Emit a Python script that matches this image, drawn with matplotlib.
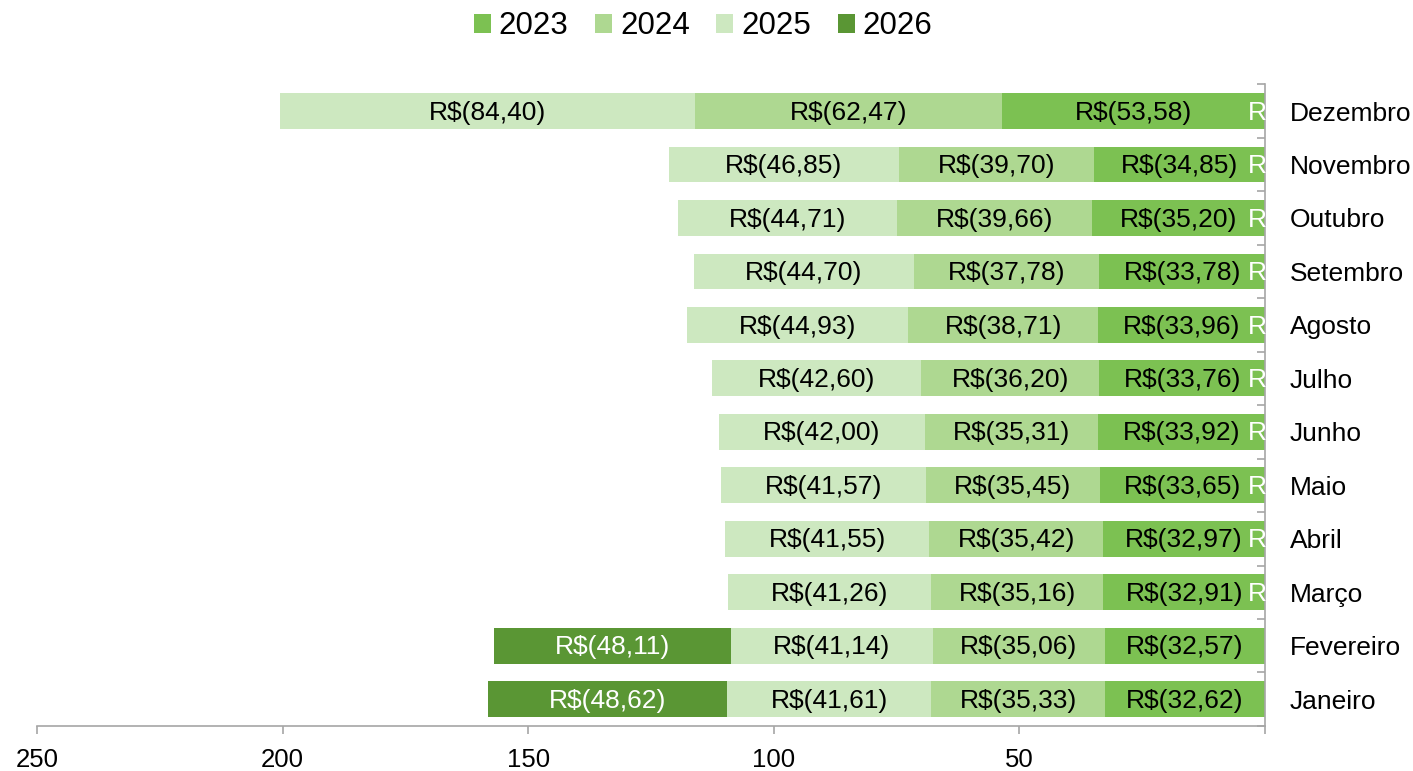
import numpy as np
import matplotlib.pyplot as plt
from matplotlib.patches import Patch

plt.rcParams["font.family"] = ["Liberation Sans", "DejaVu Sans"]

months = ["Janeiro", "Fevereiro", "Março", "Abril", "Maio", "Junho",
          "Julho", "Agosto", "Setembro", "Outubro", "Novembro", "Dezembro"]

v2023 = [32.62, 32.57, 32.91, 32.97, 33.65, 33.92, 33.76, 33.96, 33.78, 35.20, 34.85, 53.58]
v2024 = [35.33, 35.06, 35.16, 35.42, 35.45, 35.31, 36.20, 38.71, 37.78, 39.66, 39.70, 62.47]
v2025 = [41.61, 41.14, 41.26, 41.55, 41.57, 42.00, 42.60, 44.93, 44.70, 44.71, 46.85, 84.40]
v2026 = [48.62, 48.11, 0, 0, 0, 0, 0, 0, 0, 0, 0, 0]

years = ["2023", "2024", "2025", "2026"]
series = [v2023, v2024, v2025, v2026]
colors = ["#7cc152", "#aed891", "#cde8c0", "#5a9634"]
text_colors = ["black", "black", "black", "white"]

x_ticks = [0, 50, 100, 150, 200, 250]
x_tick_labels = ["", "50", "100", "150", "200", "250"]


def brl(v):
    return "R$({:.2f})".format(v).replace(".", ",")


fig = plt.figure(figsize=(14.13, 7.71), dpi=100)
ax = fig.add_axes([0.0262, 0.0584, 0.8691, 0.8323])

y = np.arange(len(months))
left = np.zeros(len(months))

#Stacked bars, value labels centered in each segment
for vals, c, tc in zip(series, colors, text_colors):
    vals = np.array(vals)
    ax.barh(y, vals, left=left, height=0.67, color=c, edgecolor="none")
    for i, v in enumerate(vals):
        if v > 0:
            ax.text(left[i] + v / 2, y[i] - 0.03, brl(v), ha="center", va="center",
                    fontsize=19, color=tc)
        else:
            # empty 2026 months: only the first letter of the label shows at the edge
            ax.text(3.5, y[i] - 0.03, "R", ha="left", va="center",
                    fontsize=19, color=tc)
    left = left + vals

ax.set_xlim(250, 0)
ax.set_ylim(-0.5, len(months) - 0.5)

ax.set_xticks(x_ticks)
ax.set_xticklabels(x_tick_labels, fontsize=18.5)
ax.tick_params(axis="x", direction="out", length=6, width=1.2, color="#a6a6a6", pad=10)

ax.yaxis.tick_right()
ax.set_yticks(y)
ax.set_yticklabels(months, fontsize=19)
ax.set_yticks(np.arange(-0.5, len(months), 1), minor=True)
ax.tick_params(axis="y", which="major", length=0, pad=18)
ax.tick_params(axis="y", which="minor", direction="in", length=6, width=1.2,
               color="#a6a6a6")

ax.spines["top"].set_visible(False)
ax.spines["left"].set_visible(False)
ax.spines["bottom"].set_color("#a6a6a6")
ax.spines["right"].set_color("#a6a6a6")
ax.spines["bottom"].set_linewidth(1.2)
ax.spines["right"].set_linewidth(1.2)

#Legend
handles = [Patch(facecolor=c, edgecolor="none", label=yr) for yr, c in zip(years, colors)]
fig.legend(handles=handles, loc="center", bbox_to_anchor=(0.4975, 0.966), ncol=4,
           frameon=False, fontsize=22.5, handlelength=0.55, handleheight=0.55,
           handletextpad=0.25, columnspacing=0.85)

plt.savefig("out.png", dpi=100)
